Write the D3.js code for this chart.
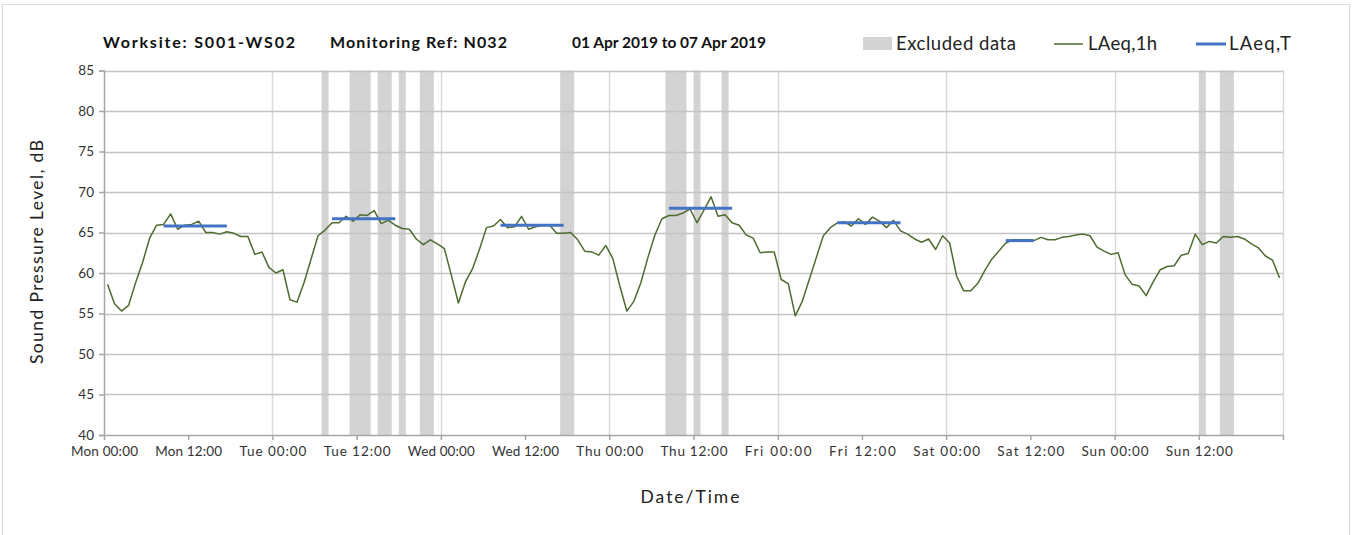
<!DOCTYPE html>
<html>
<head>
<meta charset="utf-8">
<script src="https://cdn.jsdelivr.net/npm/d3@7"></script>
<style>
  html, body { margin: 0; padding: 0; background: #fff; }
  svg { display: block; font-family: Lato, "Open Sans", sans-serif; }
</style>
</head>
<body>
<div id="chart"></div>
<script>
// hourly LAeq,1h values, Mon 00:00 .. Sun 23:00
const laeq1h = [
  58.6, 56.2, 55.3, 56.0, 58.8, 61.3, 64.3, 65.9, 66.0, 67.3, 65.4, 65.9, 66.0, 66.4, 65.0, 65.0, 64.8, 65.1, 64.9, 64.5, 64.5, 62.3, 62.6, 60.7,
  60.0, 60.4, 56.7, 56.4, 58.8, 61.7, 64.6, 65.3, 66.2, 66.2, 67.0, 66.4, 67.2, 67.1, 67.7, 66.1, 66.5, 65.9, 65.5, 65.4, 64.2, 63.5, 64.1, 63.6,
  63.0, 59.7, 56.3, 58.9, 60.5, 62.9, 65.6, 65.8, 66.6, 65.6, 65.7, 67.0, 65.4, 65.7, 65.9, 65.9, 64.9, 64.9, 65.0, 64.1, 62.7, 62.6, 62.2, 63.4,
  61.8, 58.4, 55.3, 56.5, 58.8, 61.9, 64.7, 66.7, 67.1, 67.1, 67.4, 67.9, 66.2, 67.8, 69.4, 67.0, 67.2, 66.2, 65.9, 64.7, 64.3, 62.5, 62.6, 62.6,
  59.2, 58.7, 54.7, 56.5, 59.2, 61.9, 64.6, 65.6, 66.2, 66.3, 65.8, 66.7, 66.0, 66.9, 66.4, 65.6, 66.5, 65.2, 64.8, 64.2, 63.8, 64.2, 62.9, 64.6,
  63.7, 59.6, 57.8, 57.8, 58.7, 60.3, 61.7, 62.7, 63.7, 64.1, 64.1, 64.1, 64.0, 64.4, 64.1, 64.1, 64.4, 64.5, 64.7, 64.8, 64.6, 63.2, 62.7, 62.3,
  62.5, 59.8, 58.6, 58.4, 57.2, 58.9, 60.4, 60.8, 60.9, 62.2, 62.4, 64.8, 63.5, 63.9, 63.7, 64.5, 64.4, 64.5, 64.2, 63.6, 63.1, 62.1, 61.6, 59.4
];

// LAeq,T period values: [first hour, last hour, dB]
const laeqT = [
  [8, 17, 65.8],
  [32, 41, 66.7],
  [56, 65, 65.9],
  [80, 89, 68.0],
  [104, 113, 66.2],
  [128, 132, 64.0]
];

// excluded periods, hours from Mon 00:00
const excluded = [
  [31, 32], [35, 38], [39, 41], [42, 43], [45, 47],
  [65, 67],
  [80, 83], [84, 85], [88, 89],
  [156, 157], [159, 161]
];

const days = ['Mon', 'Tue', 'Wed', 'Thu', 'Fri', 'Sat', 'Sun'];
const yTicks = [40, 45, 50, 55, 60, 65, 70, 75, 80, 85];

(function() {
  const width = 1352;
  const height = 535;
  const x0 = 104, x1 = 1283, yTop = 70.5, yBot = 435;

  const svg = d3.select('#chart').append('svg')
      .attr('width', width)
      .attr('height', height);

  // outer chart border
  svg.append('rect')
      .attr('x', 2.5).attr('y', 4.5)
      .attr('width', 1347).attr('height', 540)
      .attr('fill', 'none')
      .attr('stroke', '#d9d9d9');

  const x = d3.scaleLinear().domain([0, 168]).range([x0, x1]);
  const y = d3.scaleLinear().domain([40, 85]).range([yBot, yTop]);

  // excluded bands
  svg.append('g')
    .selectAll('rect')
    .data(excluded)
    .enter().append('rect')
      .attr('x', d => x(d[0]))
      .attr('width', d => x(d[1]) - x(d[0]))
      .attr('y', yTop)
      .attr('height', yBot - yTop)
      .attr('fill', '#d3d3d3');

  // vertical gridlines at midnight
  svg.append('g')
    .selectAll('line')
    .data(d3.range(24, 169, 24))
    .enter().append('line')
      .attr('x1', d => Math.round(x(d)) + 0.5)
      .attr('x2', d => Math.round(x(d)) + 0.5)
      .attr('y1', yTop)
      .attr('y2', yBot)
      .attr('stroke', '#d9d9d9')
      .attr('stroke-width', 1.5);

  // horizontal gridlines
  svg.append('g')
    .selectAll('line')
    .data(yTicks.filter(d => d > 40))
    .enter().append('line')
      .attr('x1', x0)
      .attr('x2', x1)
      .attr('y1', d => Math.round(y(d)) + 0.5)
      .attr('y2', d => Math.round(y(d)) + 0.5)
      .attr('stroke', '#c4c4c4')
      .attr('stroke-width', 1.5);

  // axes
  const xAxis = d3.axisBottom(x)
      .tickValues(d3.range(0, 169, 12))
      .tickSize(5)
      .tickPadding(6)
      .tickFormat(d => d >= 168 ? '' : `${days[Math.floor(d / 24)]} ${d % 24 === 0 ? '00' : '12'}:00`);

  const gx = svg.append('g')
      .attr('transform', `translate(0,${yBot})`)
      .call(xAxis);

  const yAxis = d3.axisLeft(y)
      .tickValues(yTicks)
      .tickSize(5)
      .tickPadding(5);

  const gy = svg.append('g')
      .attr('transform', `translate(${x0},0)`)
      .call(yAxis);

  [gx, gy].forEach(g => {
    g.select('.domain').attr('stroke', '#a6a6a6').attr('stroke-width', 1.5);
    g.selectAll('.tick line').attr('stroke', '#a6a6a6').attr('stroke-width', 1.5);
    g.selectAll('.tick text')
        .attr('fill', '#333')
        .attr('font-size', 13.5)
        .attr('font-family', 'Lato, "Open Sans", sans-serif');
  });
  gx.select('.domain').attr('d', `M${x0},0.5H${x1}`);
  gx.selectAll('.tick line').attr('y1', 0);
  gx.selectAll('.tick text').attr('textLength', d => d >= 168 ? null : 67).attr('lengthAdjust', 'spacing');

  // LAeq,1h line
  const line = d3.line()
      .x((d, i) => x(i + 0.5))
      .y(d => y(d));

  svg.append('path')
      .datum(laeq1h)
      .attr('fill', 'none')
      .attr('stroke', '#4e6b30')
      .attr('stroke-width', 1.5)
      .attr('stroke-linejoin', 'round')
      .attr('d', line);

  // LAeq,T segments
  svg.append('g')
    .selectAll('line')
    .data(laeqT)
    .enter().append('line')
      .attr('x1', d => x(d[0] + 0.5))
      .attr('x2', d => x(d[1] + 0.5))
      .attr('y1', d => y(d[2]))
      .attr('y2', d => y(d[2]))
      .attr('stroke', '#4472c4')
      .attr('stroke-width', 3);

  // title, widths pinned to the reference
  const title = svg.append('g')
      .attr('font-size', 16)
      .attr('font-weight', 'bold')
      .attr('fill', '#111');
  const titleParts = [
    [103, 192, 'Worksite: S001-WS02'],
    [330, 177, 'Monitoring Ref: N032']
  ];
  titleParts.forEach(([tx, len, s]) => {
    title.append('text')
        .attr('x', tx).attr('y', 48)
        .attr('textLength', len).attr('lengthAdjust', 'spacing')
        .text(s);
  });
  title.append('text')
      .attr('x', 572).attr('y', 48)
      .attr('font-size', 15.5)
      .text('01 Apr 2019 to 07 Apr 2019');

  // legend
  const legend = svg.append('g')
      .attr('font-size', 18.5)
      .attr('fill', '#222');
  legend.append('rect')
      .attr('x', 863).attr('y', 37)
      .attr('width', 29).attr('height', 13)
      .attr('fill', '#d3d3d3');
  legend.append('text').attr('x', 896).attr('y', 50)
      .attr('textLength', 120).attr('lengthAdjust', 'spacing').text('Excluded data');
  legend.append('line')
      .attr('x1', 1054).attr('x2', 1083).attr('y1', 44).attr('y2', 44)
      .attr('stroke', '#4e6b30').attr('stroke-width', 1.5);
  legend.append('text').attr('x', 1088).attr('y', 50)
      .attr('textLength', 69).attr('lengthAdjust', 'spacing').text('LAeq,1h');
  legend.append('line')
      .attr('x1', 1196).attr('x2', 1226).attr('y1', 44).attr('y2', 44)
      .attr('stroke', '#4472c4').attr('stroke-width', 3);
  legend.append('text').attr('x', 1229).attr('y', 50)
      .attr('textLength', 62).attr('lengthAdjust', 'spacing').text('LAeq,T');

  // axis titles
  svg.append('text')
      .attr('x', 690).attr('y', 503)
      .attr('text-anchor', 'middle')
      .attr('font-size', 17.5)
      .attr('fill', '#222')
      .attr('textLength', 99).attr('lengthAdjust', 'spacing')
      .text('Date/Time');

  svg.append('text')
      .attr('transform', 'translate(43,252) rotate(-90)')
      .attr('text-anchor', 'middle')
      .attr('font-size', 17.5)
      .attr('fill', '#222')
      .attr('textLength', 224).attr('lengthAdjust', 'spacing')
      .text('Sound Pressure Level, dB');
})()
</script>
</body>
</html>
